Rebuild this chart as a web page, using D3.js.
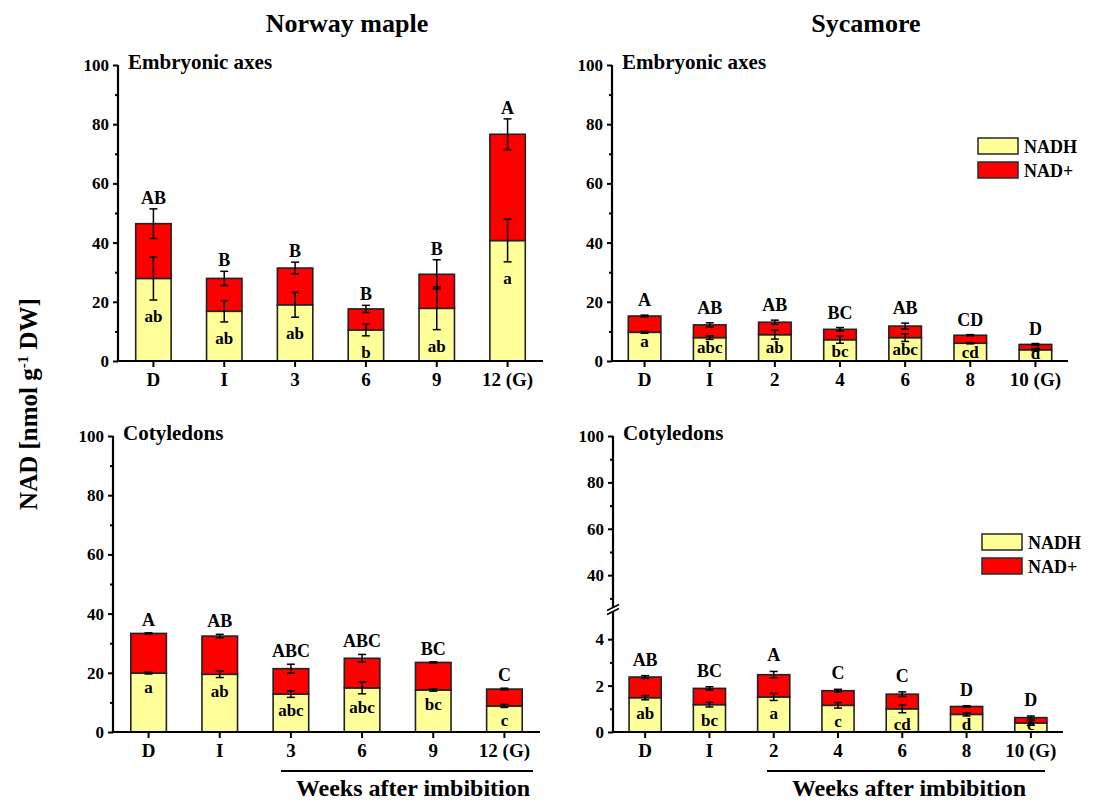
<!DOCTYPE html>
<html>
<head>
<meta charset="utf-8">
<script src="https://cdn.jsdelivr.net/npm/d3@7/dist/d3.min.js"></script>
<style>
  html, body { margin: 0; padding: 0; background: #fff; }
  svg { display: block; }
  text { font-family: "Liberation Serif", "Times New Roman", serif; font-weight: bold; fill: #000; }
</style>
</head>
<body>
<svg id="chart" width="1111" height="803"></svg>
<script>
// ---------------- DATA ----------------
const nmCategories = ["D", "I", "3", "6", "9", "12 (G)"];
const syCategories = ["D", "I", "2", "4", "6", "8", "10 (G)"];
const seriesNames = ["NADH", "NAD+"];

// Norway maple – embryonic axes
const nmAxesNADH    = [27.9, 16.8, 19.0, 10.5, 17.8, 40.7];
const nmAxesNADHErr = [7.3, 3.6, 4.2, 2.0, 7.2, 7.2];
const nmAxesNADplus = [18.5, 11.1, 12.4, 7.1, 11.5, 35.9];
const nmAxesTotErr  = [5.0, 2.4, 2.0, 1.2, 4.9, 5.2];
const nmAxesUpper   = ["AB", "B", "B", "B", "B", "A"];
const nmAxesLower   = ["ab", "ab", "ab", "b", "ab", "a"];

// Sycamore – embryonic axes
const syAxesNADH    = [9.7, 7.9, 8.9, 7.2, 7.9, 6.0, 3.8];
const syAxesNADHErr = [0.3, 0.6, 1.5, 1.2, 1.3, 0.2, 0.4];
const syAxesNADplus = [5.5, 4.3, 4.2, 3.5, 3.9, 2.7, 1.8];
const syAxesTotErr  = [0.3, 0.7, 0.7, 0.6, 1.0, 0.2, 0.3];
const syAxesUpper   = ["A", "AB", "AB", "BC", "AB", "CD", "D"];
const syAxesLower   = ["a", "abc", "ab", "bc", "abc", "cd", "d"];

// Norway maple – cotyledons
const nmCotNADH    = [19.9, 19.5, 12.8, 14.9, 14.2, 8.8];
const nmCotNADHErr = [0.3, 1.1, 1.1, 2.0, 0.4, 0.5];
const nmCotNADplus = [13.4, 12.9, 8.6, 10.0, 9.3, 5.7];
const nmCotTotErr  = [0.2, 0.6, 1.5, 1.3, 0.2, 0.3];
const nmCotUpper   = ["A", "AB", "ABC", "ABC", "BC", "C"];
const nmCotLower   = ["a", "ab", "abc", "abc", "bc", "c"];

// Sycamore – cotyledons
const syCotNADH    = [1.48, 1.18, 1.51, 1.15, 1.00, 0.76, 0.39];
const syCotNADHErr = [0.09, 0.10, 0.15, 0.12, 0.17, 0.07, 0.10];
const syCotNADplus = [0.89, 0.70, 0.96, 0.63, 0.63, 0.34, 0.23];
const syCotTotErr  = [0.06, 0.07, 0.14, 0.06, 0.10, 0.03, 0.07];
const syCotUpper   = ["AB", "BC", "A", "C", "C", "D", "D"];
const syCotLower   = ["ab", "bc", "a", "c", "cd", "d", "e"];

const majorTicks = [0, 20, 40, 60, 80, 100];
const minorTicks = [10, 30, 50, 70, 90];
const brokenUpperMajor = [40, 60, 80, 100];
const brokenUpperMinor = [30, 50, 70, 90];
const brokenLowerMajor = [0, 2, 4];
const brokenLowerMinor = [1, 3];

// ---------------- STYLE ----------------
const colNADH = "#ffff99";
const colNADp = "#ff0000";
const svg = d3.select("#chart");

function drawPanel(p) {
  const g = svg.append("g");
  const x = d3.scaleBand().domain(p.categories).range([p.x0, p.x1])
    .paddingInner(0.5).paddingOuter(0.25);

  let y;
  if (!p.broken) {
    y = d3.scaleLinear().domain([0, 100]).range([p.yBottom, p.yTop]);
  } else {
    const lo = d3.scaleLinear().domain([0, 5]).range([p.yBottom, p.breakLow]);
    const hi = d3.scaleLinear().domain([28, 100]).range([p.breakHigh, p.yTop]);
    y = v => (v <= 5 ? lo(v) : hi(v));
    y.lo = lo; y.hi = hi;
  }

  // stacked data
  const rows = p.categories.map((c, i) => ({cat: c, "NADH": p.nadh[i], "NAD+": p.nadp[i]}));
  const stacked = d3.stack().keys(seriesNames)(rows);
  const colors = {"NADH": colNADH, "NAD+": colNADp};

  stacked.forEach(layer => {
    g.append("g").selectAll("rect").data(layer).join("rect")
      .attr("x", d => x(d.data.cat))
      .attr("width", x.bandwidth())
      .attr("y", d => y(d[1]))
      .attr("height", d => y(d[0]) - y(d[1]))
      .attr("fill", colors[layer.key])
      .attr("stroke", "#222")
      .attr("stroke-width", 1.6);
  });

  // error bars
  const cap = 4;
  const errs = [];
  p.categories.forEach((c, i) => {
    errs.push({cat: c, v: p.nadh[i], e: p.nadhErr[i]});
    errs.push({cat: c, v: p.nadh[i] + p.nadp[i], e: p.totErr[i]});
  });
  const eg = g.append("g").attr("stroke", "#000").attr("stroke-width", 1.5);
  errs.forEach(d => {
    const cx = x(d.cat) + x.bandwidth() / 2;
    const y1 = y(d.v + d.e), y2 = y(d.v - d.e);
    eg.append("line").attr("x1", cx).attr("x2", cx).attr("y1", y1).attr("y2", y2);
    eg.append("line").attr("x1", cx - cap).attr("x2", cx + cap).attr("y1", y1).attr("y2", y1);
    eg.append("line").attr("x1", cx - cap).attr("x2", cx + cap).attr("y1", y2).attr("y2", y2);
  });

  // letters
  g.append("g").selectAll("text.up").data(p.categories).join("text")
    .attr("text-anchor", "middle").style("font-size", "18px")
    .attr("x", c => x(c) + x.bandwidth() / 2)
    .attr("y", (c, i) => y(p.nadh[i] + p.nadp[i] + p.totErr[i]) - p.upGap)
    .text((c, i) => p.upper[i]);
  g.append("g").selectAll("text.lo").data(p.categories).join("text")
    .attr("text-anchor", "middle").style("font-size", "17px")
    .attr("x", c => x(c) + x.bandwidth() / 2)
    .attr("y", (c, i) => Math.min(y(p.nadh[i] - p.nadhErr[i]) + p.loGap, p.yBottom - 2))
    .text((c, i) => p.lower[i]);

  // x axis
  const xa = g.append("g").attr("transform", `translate(0,${p.yBottom})`)
    .call(d3.axisBottom(x).tickSize(6).tickSizeOuter(0).tickPadding(6));
  xa.select(".domain").remove();
  xa.selectAll(".tick line").attr("stroke", "#000").attr("stroke-width", 2);
  xa.selectAll(".tick text").style("font-size", "19px").attr("fill", "#000");
  g.append("line").attr("x1", p.x0 - 1).attr("x2", p.x1).attr("y1", p.yBottom).attr("y2", p.yBottom)
    .attr("stroke", "#000").attr("stroke-width", 2.2);

  // y axis
  function yAxis(scale, major, minor) {
    const a = g.append("g").attr("transform", `translate(${p.x0},0)`)
      .call(d3.axisLeft(scale).tickValues(major).tickFormat(d3.format("d"))
        .tickSize(5).tickPadding(4).tickSizeOuter(0));
    a.select(".domain").remove();
    a.selectAll(".tick line").attr("stroke", "#000").attr("stroke-width", 2);
    a.selectAll(".tick text").style("font-size", "17px").attr("fill", "#000");
    const m = g.append("g").attr("transform", `translate(${p.x0},0)`)
      .call(d3.axisLeft(scale).tickValues(minor).tickSize(3).tickFormat(""));
    m.select(".domain").remove();
    m.selectAll(".tick line").attr("stroke", "#000").attr("stroke-width", 2);
  }
  if (!p.broken) {
    yAxis(y, majorTicks, minorTicks);
  } else {
    yAxis(y.hi, brokenUpperMajor, brokenUpperMinor);
    yAxis(y.lo, brokenLowerMajor, brokenLowerMinor);
  }
  g.append("line").attr("x1", p.x0).attr("x2", p.x0).attr("y1", p.yBottom + 1).attr("y2", p.yTop)
    .attr("stroke", "#000").attr("stroke-width", 2.2);
  if (p.broken) {
    const bm = (p.breakHigh + p.breakLow) / 2;
    g.append("polygon")
      .attr("points", `${p.x0 - 6},${bm + 1} ${p.x0 + 6},${bm - 5} ${p.x0 + 6},${bm - 1} ${p.x0 - 6},${bm + 5}`)
      .attr("fill", "#fff");
    g.append("line").attr("x1", p.x0 - 6).attr("y1", bm + 1).attr("x2", p.x0 + 6).attr("y2", bm - 5)
      .attr("stroke", "#000").attr("stroke-width", 1.8);
    g.append("line").attr("x1", p.x0 - 6).attr("y1", bm + 5).attr("x2", p.x0 + 6).attr("y2", bm - 1)
      .attr("stroke", "#000").attr("stroke-width", 1.8);
  }

  // panel title
  g.append("text").attr("x", p.x0 + 10).attr("y", p.yTop + 4)
    .style("font-size", "21px").text(p.title);

  // legend
  if (p.legend) {
    seriesNames.forEach((s, i) => {
      g.append("rect").attr("x", p.legend[0]).attr("y", p.legend[1] + i * 24)
        .attr("width", 40).attr("height", 16)
        .attr("fill", colors[s]).attr("stroke", "#333").attr("stroke-width", 1.6);
      g.append("text").attr("x", p.legend[0] + 46).attr("y", p.legend[1] + i * 24 + 15)
        .style("font-size", "18px").text(s);
    });
  }

  // weeks bracket
  if (p.weeks) {
    g.append("line").attr("x1", p.weeks[0]).attr("x2", p.weeks[1])
      .attr("y1", 771).attr("y2", 771).attr("stroke", "#000").attr("stroke-width", 2.2);
    g.append("text").attr("x", p.weeks[2]).attr("y", 796).attr("text-anchor", "middle")
      .style("font-size", "24px").text("Weeks after imbibition");
  }
}

drawPanel({categories: nmCategories, x0: 118, x1: 543, yTop: 65, yBottom: 361,
  nadh: nmAxesNADH, nadhErr: nmAxesNADHErr, nadp: nmAxesNADplus, totErr: nmAxesTotErr,
  upper: nmAxesUpper, lower: nmAxesLower, title: "Embryonic axes", upGap: 5, loGap: 22});

drawPanel({categories: syCategories, x0: 612, x1: 1068, yTop: 65, yBottom: 361,
  nadh: syAxesNADH, nadhErr: syAxesNADHErr, nadp: syAxesNADplus, totErr: syAxesTotErr,
  upper: syAxesUpper, lower: syAxesLower, title: "Embryonic axes", upGap: 9, loGap: 14,
  legend: [978, 138]});

drawPanel({categories: nmCategories, x0: 113, x1: 540, yTop: 436, yBottom: 732,
  nadh: nmCotNADH, nadhErr: nmCotNADHErr, nadp: nmCotNADplus, totErr: nmCotTotErr,
  upper: nmCotUpper, lower: nmCotLower, title: "Cotyledons", upGap: 7, loGap: 19,
  weeks: [281, 533, 413]});

drawPanel({categories: syCategories, x0: 613, x1: 1063, yTop: 436, yBottom: 732,
  broken: true, breakLow: 616, breakHigh: 603,
  nadh: syCotNADH, nadhErr: syCotNADHErr, nadp: syCotNADplus, totErr: syCotTotErr,
  upper: syCotUpper, lower: syCotLower, title: "Cotyledons", upGap: 10, loGap: 19,
  legend: [982, 534], weeks: [767, 1045, 909]});

// global titles
svg.append("text").attr("x", 347).attr("y", 32).attr("text-anchor", "middle")
  .style("font-size", "26px").text("Norway maple");
svg.append("text").attr("x", 866).attr("y", 32).attr("text-anchor", "middle")
  .style("font-size", "26px").text("Sycamore");

// y label
const yl = svg.append("text").attr("transform", "translate(37,404) rotate(-90)")
  .attr("text-anchor", "middle").style("font-size", "25px");
yl.append("tspan").text("NAD [nmol g");
yl.append("tspan").attr("dy", -9).style("font-size", "15px").text("-1");
yl.append("tspan").attr("dy", 9).text(" DW]");
</script>
</body>
</html>
